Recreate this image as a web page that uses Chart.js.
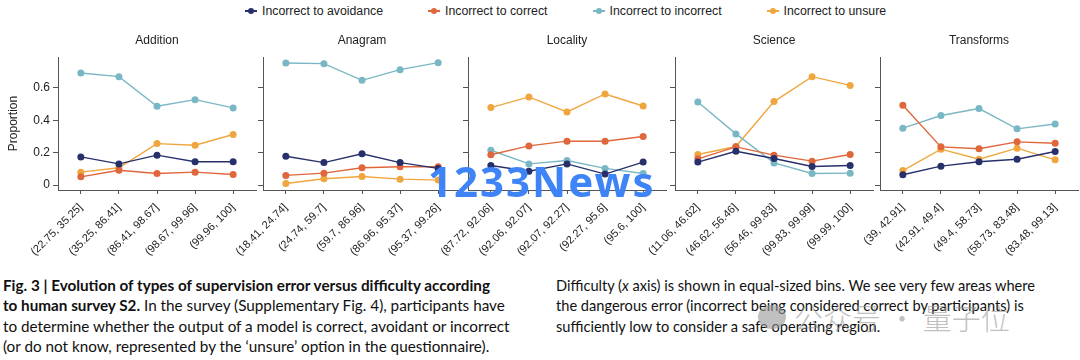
<!DOCTYPE html>
<html>
<head>
<meta charset="utf-8">
<script src="https://cdn.jsdelivr.net/npm/chart.js@4.4.1/dist/chart.umd.min.js"></script>
<style>
body { margin: 0; width: 1080px; height: 360px; overflow: hidden; background: #fff; position: relative;
       font-family: 'Liberation Sans', Arial, sans-serif; }
canvas { position: absolute; }
#legend { position: absolute; top: 3px; left: 245px; display: flex; font-size: 12.3px; color: #222; line-height: 16px; }
#legend .item { display: flex; align-items: center; margin-right: 45px; }
#legend .mk { position: relative; width: 12px; height: 16px; margin-right: 5px; }
#legend .mk .ln { position: absolute; left: 0; right: 0; top: 7px; height: 1.5px; }
#legend .mk .dt { position: absolute; left: 3px; top: 5px; width: 6px; height: 6px; border-radius: 50%; }
.cap { position: absolute; top: 275px; font-family: Lato, 'Open Sans', sans-serif; font-size: 15px; line-height: 20.3px;
       color: #111; transform-origin: 0 0; white-space: nowrap; }
.cap span { display: inline-block; }
#wm1 { position: absolute; left: 428px; top: 152px; font-family: 'Noto Sans', sans-serif; font-weight: bold; font-size: 42px;
       letter-spacing: 2px; color: #3f84f6; }
#wm2 { position: absolute; left: 758px; top: 296px; font-family: 'Noto Sans CJK SC', sans-serif; font-weight: 300; font-size: 29px;
       color: rgba(150, 150, 150, 0.6); display: flex; align-items: center; }
#wm2 .ic { width: 28px; height: 24px; border-radius: 50%; background: rgba(150, 150, 150, 0.6); margin-right: 8px; }
</style>
</head>
<body>
<div id="legend"></div>

<div class="cap" id="capL" style="left:3px">
<span id="capL1"><b>Fig. 3 | Evolution of types of supervision error versus difficulty according</b></span><br>
<span><b>to human survey S2.</b> In the survey (Supplementary Fig. 4), participants have</span><br>
<span>to determine whether the output of a model is correct, avoidant or incorrect</span><br>
<span>(or do not know, represented by the ‘unsure’ option in the questionnaire).</span>
</div>
<div class="cap" id="capR" style="left:556px">
<span id="capR1">Difficulty (<i>x</i> axis) is shown in equal-sized bins. We see very few areas where</span><br>
<span>the dangerous error (incorrect being considered correct by participants) is</span><br>
<span>sufficiently low to consider a safe operating region.</span>
</div>

<script>
var panels = ['Addition', 'Anagram', 'Locality', 'Science', 'Transforms'];

var bins = [
    ['(22.75, 35.25]', '(35.25, 86.41]', '(86.41, 98.67]', '(98.67, 99.96]', '(99.96, 100]'],
    ['(18.41, 24.74]', '(24.74, 59.7]', '(59.7, 86.96]', '(86.96, 95.37]', '(95.37, 99.26]'],
    ['(87.72, 92.06]', '(92.06, 92.07]', '(92.07, 92.27]', '(92.27, 95.6]', '(95.6, 100]'],
    ['(11.06, 46.62]', '(46.62, 56.46]', '(56.46, 99.83]', '(99.83, 99.99]', '(99.99, 100]'],
    ['(39, 42.91]', '(42.91, 49.4]', '(49.4, 58.73]', '(58.73, 83.48]', '(83.48, 99.13]']
];

var yTicks = [0, 0.2, 0.4, 0.6];

// one row per panel, in the order of panels
var avoidance = [
    [0.174, 0.131, 0.185, 0.144, 0.144],
    [0.178, 0.139, 0.193, 0.139, 0.103],
    [0.121, 0.086, 0.131, 0.068, 0.142],
    [0.142, 0.209, 0.164, 0.115, 0.121],
    [0.064, 0.117, 0.144, 0.160, 0.207]
];
var correct = [
    [0.051, 0.092, 0.072, 0.080, 0.066],
    [0.060, 0.074, 0.107, 0.113, 0.113],
    [0.187, 0.242, 0.271, 0.271, 0.300],
    [0.162, 0.236, 0.185, 0.148, 0.189],
    [0.492, 0.236, 0.224, 0.267, 0.258]
];
var incorrect = [
    [0.691, 0.669, 0.486, 0.527, 0.476],
    [0.753, 0.749, 0.646, 0.712, 0.755],
    [0.215, 0.131, 0.152, 0.103, 0.072],
    [0.513, 0.316, 0.137, 0.072, 0.074],
    [0.351, 0.429, 0.472, 0.347, 0.377]
];
var unsure = [
    [0.080, 0.107, 0.256, 0.246, 0.312],
    [0.010, 0.039, 0.053, 0.037, 0.031],
    [0.478, 0.544, 0.451, 0.562, 0.488],
    [0.189, 0.238, 0.515, 0.669, 0.615],
    [0.090, 0.222, 0.160, 0.228, 0.156]
];

var seriesNames = ['Incorrect to avoidance', 'Incorrect to correct', 'Incorrect to incorrect', 'Incorrect to unsure'];
var seriesValues = [avoidance, correct, incorrect, unsure];
var seriesColors = ['#27306b', '#df673b', '#7ab7c4', '#f0a63e'];

var axisLeft = [58, 263, 468, 675, 880];
var yAxisW = 58;
var plotW = 202;

Chart.defaults.font.family = "'Liberation Sans', Arial, sans-serif";
Chart.defaults.color = '#222';

// legend
var legend = document.getElementById('legend');
for (var s = 0; s < seriesNames.length; ++s) {
    var item = document.createElement('div');
    item.className = 'item';
    item.innerHTML = '<span class="mk"><span class="ln" style="background:' + seriesColors[s] + '"></span>' +
        '<span class="dt" style="background:' + seriesColors[s] + '"></span></span>' + seriesNames[s];
    legend.appendChild(item);
}

function makePanel(p) {
    var canvas = document.createElement('canvas');
    canvas.width = yAxisW + plotW;
    canvas.height = 245;
    canvas.style.left = (axisLeft[p] - yAxisW) + 'px';
    canvas.style.top = '25px';
    document.body.appendChild(canvas);

    var datasets = seriesNames.map(function (name, s) {
        return {
            label: name,
            data: seriesValues[s][p].map((v, i) => ({ x: i, y: v })),
            borderColor: seriesColors[s],
            backgroundColor: seriesColors[s],
            borderWidth: 1.4,
            pointRadius: 3.5,
            pointBorderWidth: 0,
            tension: 0
        };
    });

    new Chart(canvas, {
        type: 'line',
        data: { datasets: datasets },
        options: {
            responsive: false,
            animation: false,
            devicePixelRatio: 1,
            layout: { padding: 0 },
            plugins: {
                legend: { display: false },
                tooltip: { enabled: false },
                title: {
                    display: true, text: panels[p], fullSize: false, color: '#222',
                    font: { size: 12, weight: 'normal' }, padding: { top: 8, bottom: 9.6 }
                }
            },
            scales: {
                x: {
                    type: 'linear', min: -0.6, max: 4.6,
                    afterBuildTicks: function (scale) { scale.ticks = bins[p].map((_, i) => ({ value: i })); },
                    afterFit: function (scale) { scale.height = 80; },
                    ticks: {
                        autoSkip: false, minRotation: 45, maxRotation: 45, padding: 7,
                        font: { size: 11 }, color: '#222',
                        callback: function (v) { return bins[p][v]; }
                    },
                    grid: { display: true, drawOnChartArea: false, drawTicks: true, tickLength: 4, color: '#555' },
                    border: { display: true, color: '#555', width: 1 }
                },
                y: {
                    min: -0.03, max: 0.79,
                    afterBuildTicks: function (scale) { scale.ticks = yTicks.map(v => ({ value: v })); },
                    afterFit: function (scale) { scale.width = yAxisW; },
                    ticks: {
                        display: p === 0, padding: 3, font: { size: 12 }, color: '#222',
                        callback: function (v) { return String(v); }
                    },
                    title: { display: p === 0, text: 'Proportion', color: '#222', font: { size: 12 }, padding: { top: 6, bottom: 0 } },
                    grid: { display: true, drawOnChartArea: false, drawTicks: true, tickLength: 5, color: '#555' },
                    border: { display: true, color: '#555', width: 1 }
                }
            }
        }
    });
}

for (var p = 0; p < panels.length; ++p) {
    makePanel(p);
}

// squeeze caption columns to the widths in the figure
function fitCap(id, lineId, target) {
    var w = document.getElementById(lineId).getBoundingClientRect().width;
    document.getElementById(id).style.transform = 'scaleX(' + (target / w) + ')';
}
fitCap('capL', 'capL1', 487);
fitCap('capR', 'capR1', 479);
</script>

<div id="wm1">1233News</div>
<div id="wm2"><span class="ic"></span>公众号 · 量子位</div>
</body>
</html>
